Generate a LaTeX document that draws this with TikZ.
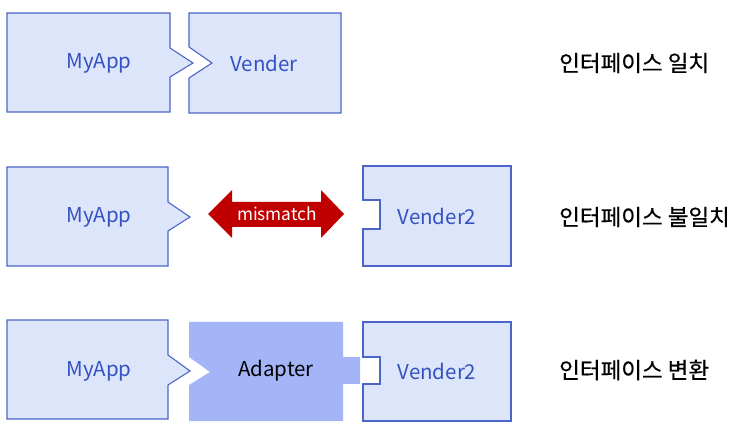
\documentclass[tikz,border=0pt]{standalone}
\usepackage{fontspec}
\setmainfont{Noto Sans CJK KR}
\newfontfamily\krfont[FakeBold=0.5]{Noto Sans CJK KR}
\definecolor{boxfill}{HTML}{DDE5FB}
\definecolor{boxline}{HTML}{4A66C8}
\definecolor{adfill}{HTML}{A3B4F7}
\definecolor{txtblue}{HTML}{3452C2}
\definecolor{mismred}{HTML}{C00000}
\tikzset{
  appbox/.style={fill=boxfill,draw=boxline,line width=1.1pt,line join=miter},
  boxtext/.style={text=txtblue,font=\fontsize{20.5}{24}\selectfont,inner sep=0pt},
  adtext/.style={text=black,font=\fontsize{20.5}{24}\selectfont,inner sep=0pt},
  mistext/.style={text=white,font=\fontsize{17.3}{20}\selectfont,inner sep=0pt},
  label/.style={text=black,font=\krfont\fontsize{22.5}{26}\selectfont,anchor=west,inner sep=0pt},
}
\begin{document}
\begin{tikzpicture}[x=1pt,y=-1pt]
\useasboundingbox (0,0) rectangle (755,435);
% Row 1
\draw[appbox] (7,13) -- (170,13) -- (170,48) -- (193,63) -- (170,77) -- (170,112) -- (7,112) -- cycle;
\draw[appbox] (189,13) -- (341,13) -- (341,113) -- (189,113) -- (189,78) -- (212,63) -- (189,47) -- cycle;
\node[boxtext] (app1) at (99,63) {MyApp};
\node[boxtext] (ven1) at (264,63) {Vender};
\node[label] (lab1) at (559,63) {인터페이스 일치};
% Row 2
\draw[appbox] (7,167) -- (168,167) -- (168,202) -- (190,217) -- (168,231) -- (168,266) -- (7,266) -- cycle;
\fill[mismred] (208,214) -- (232,190) -- (232,202) -- (321,202) -- (321,190) -- (344,214) -- (321,238) -- (321,227) -- (232,227) -- (232,238) -- cycle;
\node[mistext] (mis) at (277,214) {mismatch};
\draw[appbox] (363,166) -- (511,166) -- (511,266) -- (363,266) -- (363,229) -- (380,229) -- (380,200) -- (363,200) -- cycle;
\node[boxtext] (app2) at (99,217) {MyApp};
\node[boxtext] (ven2) at (437,216) {Vender2};
\node[label] (lab2) at (559,217) {인터페이스 불일치};
% Row 3
\draw[appbox] (7,320) -- (168,320) -- (168,355) -- (190,371) -- (168,385) -- (168,419) -- (7,419) -- cycle;
\fill[adfill] (189,322) -- (343,322) -- (343,357) -- (360,357) -- (360,384) -- (343,384) -- (343,421) -- (189,421) -- (189,385) -- (210,372) -- (189,357) -- cycle;
\draw[appbox] (363,322) -- (511,322) -- (511,421) -- (363,421) -- (363,384) -- (380,384) -- (380,357) -- (363,357) -- cycle;
\node[boxtext] (app3) at (99,371) {MyApp};
\node[adtext] (ad3) at (276,371) {Adapter};
\node[boxtext] (ven3) at (437,371) {Vender2};
\node[label] (lab3) at (559,370) {인터페이스 변환};
\end{tikzpicture}
\end{document}
